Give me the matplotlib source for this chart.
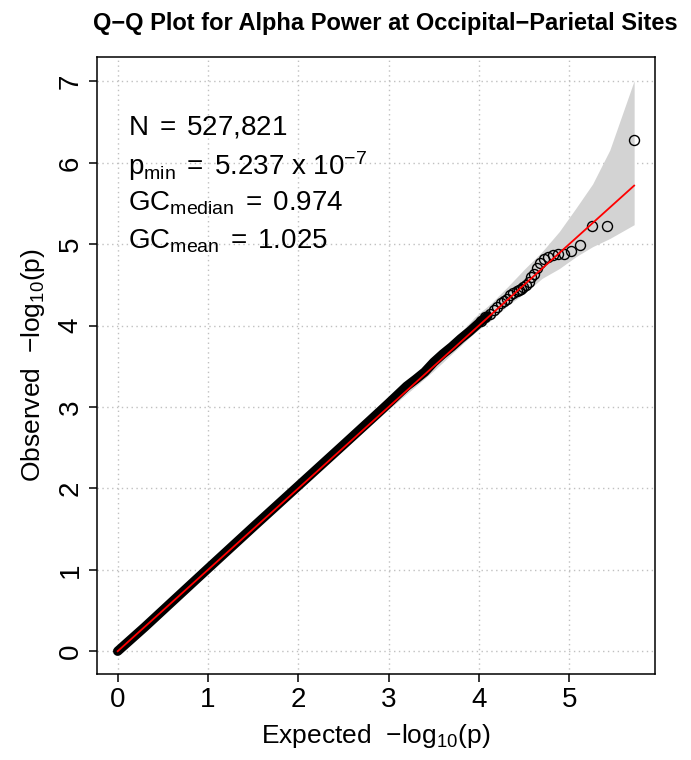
import matplotlib
matplotlib.use("Agg")
import matplotlib.pyplot as plt

plt.rcParams['font.family'] = ['Liberation Sans', 'DejaVu Sans']
plt.rcParams['mathtext.fontset'] = 'custom'
plt.rcParams['mathtext.rm'] = 'Liberation Sans'
plt.rcParams['mathtext.it'] = 'Liberation Sans:italic'
plt.rcParams['mathtext.bf'] = 'Liberation Sans:bold'

# bulk of the points (read along the thick black band)
bulk_exp = [0.0, 0.3, 0.6, 1.0, 1.5, 2.0, 2.5, 2.8, 3.0, 3.2, 3.3, 3.4, 3.5, 3.6, 3.7, 3.8, 3.9, 4.0, 4.1]
bulk_obs = [0.0, 0.297, 0.605, 1.015, 1.525, 2.03, 2.535, 2.84, 3.045, 3.255, 3.34, 3.43, 3.55, 3.65, 3.74, 3.84, 3.93, 4.03, 4.12]

# individual tail points
tail_exp = [5.72, 5.42, 5.25, 5.12, 5.02, 4.94, 4.88, 4.82, 4.77, 4.72, 4.68, 4.64, 4.61, 4.58,
            4.55, 4.52, 4.49, 4.47, 4.44, 4.42, 4.38, 4.34, 4.31, 4.28, 4.25, 4.20, 4.17, 4.12, 4.07, 4.02]
tail_obs = [6.281, 5.225, 5.22, 4.985, 4.92, 4.885, 4.88, 4.862, 4.845, 4.82, 4.77, 4.71, 4.64, 4.60,
            4.54, 4.50, 4.47, 4.45, 4.44, 4.42, 4.40, 4.37, 4.33, 4.30, 4.28, 4.23, 4.19, 4.14, 4.10, 4.06]

# confidence band
ci_exp = [0.0, 1.0, 2.0, 3.0, 3.5, 3.95, 4.14, 4.33, 4.51, 4.70, 4.89, 5.08, 5.26, 5.45, 5.72]
ci_lo = [0.0, 0.995, 1.99, 2.97, 3.445, 3.91, 4.07, 4.256, 4.40, 4.58, 4.70, 4.85, 4.97, 5.07, 5.24]
ci_hi = [0.0, 1.005, 2.01, 3.03, 3.557, 4.10, 4.28, 4.49, 4.70, 4.908, 5.154, 5.45, 5.74, 6.156, 7.01]

ref_line = [0.0, 5.72]

x_ticks = [0, 1, 2, 3, 4, 5]
y_ticks = [0, 1, 2, 3, 4, 5, 6, 7]

stats = [r"$\mathrm{N\;=\;527{,}821}$",
         r"$\mathrm{p_{min}\;=\;5.237\ x\ 10^{-7}}$",
         r"$\mathrm{GC_{median}\;=\;0.974}$",
         r"$\mathrm{GC_{mean}\;=\;1.025}$"]
stats_y = [0.8736, 0.8087, 0.7520, 0.6904]

fig = plt.figure(figsize=(6.91, 7.6), dpi=100)
ax = fig.add_axes([97 / 691, 1 - 674 / 760, 558 / 691, 617 / 760])

ax.set_xlim(-0.229, 5.951)
ax.set_ylim(-0.28, 7.30)

for t in x_ticks:
    ax.axvline(t, color='#c0c0c0', lw=1, ls=(0, (1, 2.5)), zorder=1)
for t in y_ticks:
    ax.axhline(t, color='#c0c0c0', lw=1, ls=(0, (1, 2.5)), zorder=1)

ax.fill_between(ci_exp, ci_lo, ci_hi, color='#D3D3D3', lw=0, zorder=2)
ax.plot(bulk_exp, bulk_obs, color='black', lw=6.8, solid_capstyle='round', zorder=3)
ax.plot(tail_exp, tail_obs, 'o', mfc='none', mec='black', ms=7.2, mew=1.0, zorder=3)
ax.plot(ref_line, ref_line, color='red', lw=1.3, zorder=4)

ax.set_xticks(x_ticks)
ax.set_yticks(y_ticks)
ax.tick_params(direction='out', length=5.5, width=1.1, labelsize=20, pad=4)
ax.tick_params(axis='y', labelrotation=90)
for lab in ax.get_yticklabels():
    lab.set_va('center')
for s in ax.spines.values():
    s.set_linewidth(1.1)

ax.set_xlabel(r"Expected  $\mathrm{-log_{10}(p)}$", fontsize=19, labelpad=6)
ax.set_ylabel(r"Observed  $\mathrm{-log_{10}(p)}$", fontsize=19, labelpad=8)
fig.text(385 / 691, 1 - 30 / 760, "Q\u2212Q Plot for Alpha Power at Occipital\u2212Parietal Sites",
         ha='center', va='baseline', fontsize=17, fontweight='bold')

for s, y in zip(stats, stats_y):
    ax.text(0.0556, y, s, transform=ax.transAxes, fontsize=20, va='baseline', ha='left')

fig.savefig("out.png", dpi=100)
